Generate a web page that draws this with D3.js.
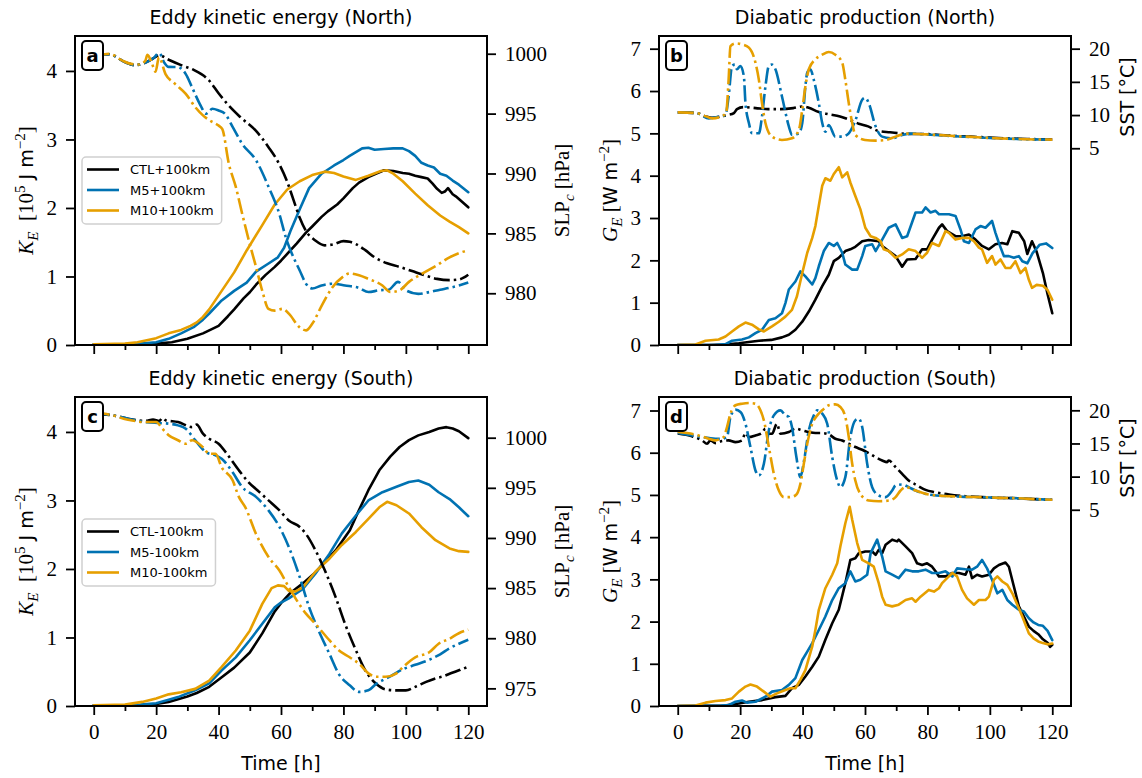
<!DOCTYPE html>
<html><head><meta charset="utf-8">
<script src="https://cdn.jsdelivr.net/npm/d3@7"></script>
<style>body{margin:0;background:#fff} svg{display:block} text{white-space:pre}</style>
</head><body><svg id="chart" width="1142" height="778"></svg>
<script>
// ---------------- DATA ----------------
const timeMajor=[0,20,40,60,80,100,120];
const timeMinor=[10,30,50,70,90,110];
const keTicks=[0,1,2,3,4];
const geTicks=[0,1,2,3,4,5,6,7];
const slpTicksNorth=[980,985,990,995,1000];
const slpTicksSouth=[975,980,985,990,995,1000];
const sstTicks=[5,10,15,20];
const legendNorth=['CTL+100km','M5+100km','M10+100km'];
const legendSouth=['CTL-100km','M5-100km','M10-100km'];
const titles=['Eddy kinetic energy (North)','Diabatic production (North)','Eddy kinetic energy (South)','Diabatic production (South)'];
const letters=['a','b','c','d'];

// Panel a: K_E [1e5 J m-2] (solid) and SLP_c [hPa] (dash-dot)
const a_ke_ctl=[[0,0.01],[10,0.01],[15,0.015],[20,0.02],[25,0.04],[30,0.09],[35,0.17],[40,0.28],[43,0.42],[45,0.52],[48,0.68],[50,0.77],[52,0.88],[55,1.02],[58,1.14],[60,1.23],[63,1.38],[65,1.48],[68,1.64],[70,1.73],[73,1.87],[75,1.95],[78,2.05],[80,2.14],[83,2.29],[85,2.37],[88,2.45],[90,2.49],[93,2.55],[96,2.54],[99,2.51],[101,2.50],[103,2.47],[105,2.45],[107,2.43],[108.5,2.36],[110,2.28],[111.5,2.22],[112.5,2.24],[113.5,2.29],[115,2.2],[116,2.17],[118,2.09],[120,2.01]];
const a_ke_m5=[[0,0.01],[10,0.01],[15,0.02],[20,0.04],[24,0.09],[28,0.17],[32,0.26],[35,0.37],[37,0.46],[41,0.65],[45,0.79],[49,0.91],[52,1.07],[56,1.19],[59,1.28],[61,1.42],[63,1.66],[66,1.98],[69,2.29],[73,2.5],[77,2.62],[80,2.7],[82,2.76],[86,2.87],[88,2.88],[90,2.85],[93,2.86],[96,2.87],[99,2.87],[101,2.83],[103,2.76],[105,2.66],[107,2.62],[109,2.59],[111,2.50],[113,2.47],[115,2.4],[117,2.34],[120,2.23]];
const a_ke_m10=[[0,0.01],[10,0.02],[14,0.04],[17,0.07],[20,0.10],[24,0.17],[28,0.22],[31,0.28],[33,0.33],[35,0.41],[37,0.52],[41,0.79],[45,1.06],[49,1.38],[54,1.75],[58,2.05],[62,2.27],[66,2.39],[70,2.48],[74,2.53],[77,2.51],[80,2.46],[84,2.41],[88,2.47],[92,2.54],[94,2.55],[96,2.5],[99,2.39],[103,2.21],[107,2.04],[111,1.89],[114,1.8],[117,1.72],[120,1.63]];
const a_slp_ctl=[[0,999.86],[5,999.95],[10,999.3],[13,999.05],[16,999.2],[19,999.6],[21,999.86],[24,999.5],[28,999.05],[32,998.65],[37,997.75],[40,996.7],[43,995.75],[47,994.7],[52,993.55],[56,992.2],[59,991.0],[62,989.3],[64,987.8],[66,986.3],[68,985.2],[71,984.4],[74,984.0],[77,984.1],[80,984.35],[82,984.3],[84,984.1],[87,983.6],[90,983.0],[94,982.5],[98,982.2],[102,981.85],[106,981.5],[110,981.2],[114,981.1],[117,981.15],[118.5,981.3],[120,981.55]];
const a_slp_m5=[[0,999.86],[5,999.95],[10,999.3],[13,999.05],[16,999.2],[19,999.6],[21,1000.05],[22.5,999.3],[24,998.9],[27,998.88],[29.5,998.3],[31.5,997.2],[34,995.8],[36,995.0],[38,995.4],[40,995.26],[42,995.0],[44.5,993.9],[47.5,992.5],[52,991.1],[56,988.9],[59.5,986.6],[61.5,984.7],[63.5,983.3],[66,981.9],[68,980.8],[70,980.4],[73,980.65],[76.5,980.8],[80.5,980.65],[85,980.45],[88,980.1],[91.5,980.25],[94.5,980.3],[97.5,980.95],[100,980.25],[104,979.95],[107.5,980.1],[111,980.3],[114,980.45],[117,980.65],[120,980.9]];
const a_slp_m10=[[0,999.76],[5,1000.0],[9,999.45],[12,999.15],[14.5,999.1],[16.5,999.4],[17.2,999.9],[18.7,999.15],[19.8,998.5],[20.9,999.7],[23,998.3],[26,997.5],[29.5,996.65],[32.5,995.55],[35,994.85],[37,994.45],[40,994.0],[41.2,993.7],[43.3,990.8],[45.5,988.9],[47.6,986.6],[49.7,984.4],[52,982.2],[54,980.2],[56,978.7],[58,978.55],[60.5,978.7],[62.5,978.3],[66,977.15],[68,976.9],[70,977.45],[73.3,979.1],[76.5,980.5],[79.7,981.35],[82,981.65],[85,981.5],[88,981.2],[92.5,980.65],[95,980.1],[98,980.25],[101,980.95],[105,981.6],[110,982.35],[114,983.0],[117,983.35],[120,983.6]];

// Panel b: G_E [W m-2] (solid) and SST [degC] (dash-dot)
const b_ge_ctl=[[0,0],[10,0],[15,0.01],[19.6,0.04],[26,0.1],[30,0.12],[33.4,0.18],[35.6,0.24],[37.7,0.36],[39.9,0.55],[42,0.79],[44.1,1.07],[46.3,1.39],[48.4,1.66],[50,1.98],[51.6,2.06],[53.7,2.22],[55.3,2.26],[56.9,2.32],[59.1,2.45],[61.2,2.48],[64.4,2.45],[65.5,2.34],[67.6,2.22],[69.8,2.1],[71.9,1.85],[73.5,2.02],[76.2,2.03],[78.3,2.26],[79.9,2.26],[81.5,2.49],[83.7,2.77],[84.7,2.85],[86.3,2.69],[89,2.57],[91.1,2.57],[93.3,2.61],[95.4,2.49],[97.5,2.34],[99.7,2.26],[101.8,2.38],[103.9,2.41],[105.6,2.38],[107.2,2.69],[109.3,2.65],[111,2.45],[112,2.15],[113.5,2.45],[115,2.2],[117,1.7],[118.5,1.2],[120,0.75]];
const b_ge_m5=[[0,0],[12,0],[15.3,0.02],[17.4,0.1],[20.6,0.13],[22.8,0.18],[24.9,0.28],[27,0.36],[29.2,0.59],[31.3,0.63],[33.4,0.75],[34.5,0.99],[35.6,1.31],[37.7,1.5],[39.3,1.74],[40.9,1.62],[43.1,1.43],[44.1,1.58],[45.2,1.86],[46.8,2.22],[48.4,2.41],[50,2.34],[51.1,2.41],[52.7,2.18],[53.7,1.9],[55.9,1.78],[57.5,1.78],[59.1,2.1],[60.1,2.34],[62.3,2.38],[63.4,2.22],[65.5,2.49],[67.6,2.77],[69.8,2.85],[71.9,2.53],[73.5,2.57],[76.2,3.13],[78.3,3.13],[79.4,3.25],[81,3.13],[82.6,3.17],[83.7,3.09],[86.9,3.09],[89,3.05],[90.6,2.73],[91.7,2.45],[93.3,2.41],[95.4,2.73],[97,2.81],[98.6,2.77],[100.7,2.93],[101.8,2.65],[102.9,2.41],[104.5,2.1],[106.1,2.1],[107.7,2.06],[109.3,2.1],[110.4,1.98],[112,1.93],[113.7,2.17],[116,2.37],[118,2.4],[120,2.29]];
const b_ge_m10=[[0,0],[5.7,0.01],[8.9,0.1],[13.1,0.13],[15.3,0.2],[17.4,0.32],[19.6,0.44],[21.7,0.53],[23.8,0.48],[26,0.37],[27.6,0.32],[30.2,0.44],[32.4,0.55],[34.5,0.67],[36.6,0.83],[38.2,1.15],[39.9,1.7],[41.5,2.18],[43.1,2.53],[44.1,2.81],[45.2,3.29],[46.3,3.76],[47.3,3.94],[48.9,3.88],[50,4.04],[51.6,4.2],[52.7,3.96],[54.3,4.08],[55.3,3.84],[56.9,3.52],[58.5,3.21],[60.1,2.77],[61.8,2.57],[63.4,2.53],[65,2.45],[66,2.26],[67.6,2.22],[69.8,2.06],[71.9,2.14],[74,2.26],[76.2,2.22],[78.3,2.06],[79.9,2.18],[81.5,2.41],[83.7,2.34],[85.8,2.69],[86.9,2.65],[89,2.49],[91.1,2.53],[93.3,2.53],[94.9,2.45],[96.5,2.3],[97.5,2.26],[99.1,1.94],[100.7,2.1],[101.8,1.9],[103.4,2.02],[105,1.82],[106.6,1.82],[108.2,1.98],[109.8,1.7],[111.4,1.82],[112.5,1.54],[113.5,1.35],[115,1.42],[117,1.4],[118.5,1.3],[120,1.07]];
const b_sst_ctl=[[0,10.4],[6,10.3],[9,9.8],[11,9.6],[14,9.8],[16,10.0],[18,10.3],[19,10.9],[21,11.2],[25,11.05],[29,10.9],[33,10.9],[37,11.05],[40,11.3],[42,11.1],[45,10.5],[48,10.15],[52,9.8],[55,9.3],[58,8.7],[61,8.3],[64,7.65],[68,7.4],[71,7.25],[75,7.15],[79,7.15],[84,7.0],[89,6.85],[94,6.75],[100,6.6],[105,6.5],[112,6.4],[120,6.3]];
const b_sst_m5=[[0,10.4],[6,10.3],[10,9.5],[13,9.75],[15.3,10.0],[16.3,12.8],[17.4,17.4],[18.3,17.6],[19,16.9],[20.1,17.4],[21.2,15.8],[21.7,11.8],[22.8,8.8],[23.8,7.25],[26,7.25],[27,9.8],[28.1,14.3],[29.2,17.4],[30.2,17.6],[31.3,16.9],[33.4,12.8],[35.6,8.3],[36.6,7.0],[38.8,7.25],[39.9,8.8],[40.9,14.3],[41.5,16.4],[42.5,16.9],[43.6,15.3],[45.2,11.8],[46.3,8.8],[47.3,7.5],[48.4,8.5],[50.5,6.75],[52.7,6.75],[54.8,7.25],[57,9.3],[59.1,12.3],[60.1,12.6],[61.2,11.8],[63.4,8.3],[65.5,6.75],[68.7,6.5],[71.9,7.0],[75,7.2],[79,7.1],[84,6.95],[89,6.8],[94,6.7],[100,6.55],[105,6.45],[112,6.35],[120,6.3]];
const b_sst_m10=[[0,10.4],[6,10.3],[9,9.8],[11,9.5],[14,9.8],[15.5,10.3],[16.3,15.3],[16.9,20.4],[18.5,20.8],[20.6,20.65],[22.8,20.15],[24.9,17.9],[26,15.3],[27,11.8],[28.1,8.8],[30.2,6.75],[33.4,6.25],[36.6,6.5],[38.8,7.75],[39.9,10.8],[40.9,14.3],[42,16.9],[44.1,18.4],[46.3,19.1],[48.4,19.5],[50.5,19.1],[52.7,17.9],[53.7,15.3],[54.8,11.8],[55.9,8.8],[56.9,7.0],[60,6.25],[63.4,6.15],[66.6,6.25],[69.8,6.75],[73,7.2],[77,7.15],[81,7.05],[85,6.95],[90,6.8],[95,6.7],[100,6.55],[106,6.45],[112,6.35],[120,6.3]];

// Panel c: K_E (solid) and SLP_c (dash-dot), South
const c_ke_ctl=[[0,0.01],[10,0.01],[15,0.015],[20,0.03],[24,0.06],[27,0.1],[30,0.14],[33,0.19],[37,0.28],[41,0.42],[45,0.56],[50,0.78],[54,1.06],[58,1.38],[60,1.5],[63,1.65],[67,1.79],[71,1.95],[74,2.1],[77.5,2.27],[82,2.56],[85,2.86],[88,3.15],[91.5,3.44],[95,3.64],[98,3.78],[101,3.88],[104,3.95],[107.5,4.0],[110.5,4.05],[113,4.07],[115,4.05],[117,4.01],[120,3.91]];
const c_ke_m5=[[0,0.01],[10,0.01],[15,0.02],[20,0.04],[24,0.09],[27,0.13],[32.5,0.23],[37,0.33],[41,0.52],[45.5,0.71],[50,0.96],[54,1.2],[58,1.44],[60,1.51],[62.5,1.57],[67,1.71],[71,1.93],[75.5,2.22],[79.5,2.52],[84,2.78],[88,3.0],[92.5,3.12],[97,3.2],[101,3.27],[104,3.29],[107.5,3.23],[110.5,3.12],[114,3.02],[117,2.9],[120,2.77]];
const c_ke_m10=[[0,0.01],[10,0.02],[15.5,0.06],[20,0.11],[24,0.17],[28,0.2],[32.5,0.25],[37,0.37],[41,0.57],[45.5,0.81],[50,1.1],[54,1.49],[57,1.72],[59,1.76],[61,1.75],[62.5,1.68],[64.5,1.67],[67,1.73],[71,1.96],[75.5,2.15],[79.5,2.35],[84,2.54],[88,2.73],[91.5,2.9],[94,2.98],[97,2.93],[101,2.81],[105,2.61],[109.5,2.42],[114,2.3],[117,2.26],[120,2.25]];
const c_slp_ctl=[[0,1002.4],[6,1002.23],[11,1001.9],[16.5,1001.67],[19,1001.8],[21,1001.67],[22,1001.95],[23,1001.75],[27,1001.56],[31.5,1001.06],[33,1001.3],[35,1000.4],[37,999.9],[40,999.4],[43,998.25],[46.5,996.75],[49.5,995.6],[53,994.6],[56,993.75],[59.5,992.75],[62.5,991.75],[66,991.1],[68,990.4],[71,988.8],[74,986.8],[77.5,984.1],[80.5,981.45],[84,978.8],[87,976.8],[90.5,975.45],[93.5,974.9],[97,974.8],[100,974.8],[103,975.15],[106.5,975.65],[109.5,976.0],[112,976.2],[114,976.45],[117,976.8],[120,977.15]];
const c_slp_m5=[[0,1002.46],[6,1002.23],[11,1001.9],[16.5,1001.56],[21,1001.46],[24,1001.4],[27,1001.23],[29.5,1000.9],[32.5,999.75],[36,998.55],[39,998.25],[41,997.9],[44.5,996.55],[47.5,995.1],[52,994.1],[56,992.75],[59.5,991.1],[62.5,989.1],[66,986.1],[69,983.1],[72,980.8],[75.5,978.45],[78.5,976.45],[82,975.3],[85,974.65],[88,974.8],[90.5,975.45],[92.5,975.8],[95,976.2],[99,976.9],[103,977.35],[107.5,977.85],[111,978.4],[114,979.0],[117,979.45],[120,979.85]];
const c_slp_m10=[[0,1002.56],[6,1002.23],[11,1001.8],[16.5,1001.56],[20,1001.56],[22,1000.9],[24,1000.25],[27,999.75],[29.5,999.4],[31.5,999.75],[35,999.05],[37,998.4],[39,998.4],[41,997.05],[44.5,995.75],[46.5,994.1],[48.5,993.1],[52,990.4],[56,988.1],[59.5,986.75],[62.5,985.1],[65,983.8],[68,982.45],[71,981.45],[75.5,979.8],[78.5,978.8],[82,978.1],[85,977.45],[88,976.5],[90.5,976.15],[93.5,976.15],[97,976.5],[99,977.1],[103,978.1],[107.5,978.6],[110.5,979.45],[114,979.95],[117,980.5],[120,980.85]];

// Panel d: G_E (solid) and SST (dash-dot), South
const d_ge_ctl=[[0,0],[15,0.01],[19.6,0.06],[22.8,0.1],[27,0.14],[31.3,0.21],[34.5,0.24],[36.6,0.42],[38.8,0.5],[40.9,0.7],[43.1,0.93],[45.2,1.17],[47.3,1.57],[49.5,1.96],[51.6,2.28],[53.7,2.91],[55.3,3.46],[56.9,3.5],[58,3.62],[60.1,3.66],[62.3,3.66],[63.4,3.58],[64.4,3.7],[65.5,3.62],[66.6,3.82],[68.7,3.94],[70.3,3.9],[70.8,3.94],[73,3.78],[75.1,3.62],[76.7,3.38],[78.3,3.34],[79.9,3.38],[81.5,3.3],[82.6,3.19],[83.7,3.07],[85.8,3.07],[88,3.15],[90.1,3.15],[92.2,3.11],[93.3,3.3],[94.3,3.03],[95.9,3.11],[97.5,3.07],[99.7,3.11],[101.3,3.26],[102.9,3.34],[105,3.4],[106.1,3.3],[107.7,2.83],[109.3,2.36],[110.9,2.12],[112.5,1.88],[114,1.78],[115.5,1.7],[117,1.58],[118.5,1.5],[119.3,1.4],[120,1.45]];
const d_ge_m5=[[0,0],[14,0.01],[16.3,0.02],[18.5,0.1],[20.6,0.13],[22.2,0.08],[24.9,0.1],[28.1,0.22],[30.2,0.34],[33.4,0.38],[35.6,0.5],[37.7,0.66],[39.9,1.09],[41.5,1.29],[43.1,1.49],[45.2,1.8],[47.3,2.12],[49.5,2.51],[51.6,2.79],[53.7,2.91],[55.3,3.19],[56.9,2.95],[58.5,2.99],[60.7,3.11],[61.8,3.62],[63.9,3.94],[65.5,3.54],[66.6,3.19],[68.7,3.11],[70.8,3.03],[73,3.23],[75.1,3.19],[77.2,3.19],[79.4,3.23],[81.5,3.15],[83.7,3.15],[85.8,3.19],[88,3.07],[89.5,3.26],[92.2,3.24],[94.3,3.23],[95.9,3.3],[97.5,3.46],[99.1,3.26],[100.7,2.99],[102.4,2.67],[104,2.75],[105.6,2.51],[107.2,2.4],[109.3,2.28],[110.9,2.24],[112.5,2.08],[114,1.98],[115.5,1.92],[117,1.9],[118.5,1.78],[120,1.56]];
const d_ge_m10=[[0,0],[5.7,0.01],[8.9,0.08],[12.1,0.12],[15.3,0.14],[17.4,0.18],[19.6,0.34],[21.7,0.46],[23.3,0.51],[25.4,0.46],[27.6,0.34],[29.7,0.22],[31.8,0.3],[34.5,0.38],[36.1,0.42],[37.7,0.42],[39.3,0.62],[40.9,0.85],[43.1,1.41],[44.1,1.8],[45.2,2.28],[47.3,2.79],[49.5,3.11],[51.1,3.38],[52.1,3.78],[53.7,4.33],[55.1,4.72],[55.9,4.41],[57.5,3.86],[59.1,3.46],[61.2,3.38],[62.8,3.3],[64.4,2.91],[65.5,2.59],[66.6,2.4],[68.7,2.36],[70.8,2.4],[73,2.51],[75.1,2.55],[76.2,2.47],[77.8,2.59],[80.4,2.75],[82.1,2.71],[83.7,2.79],[84.7,2.91],[86.3,3.03],[88,3.15],[89.5,3.07],[91.1,2.75],[92.7,2.55],[94.9,2.4],[96.5,2.51],[98.6,2.51],[99.7,2.59],[101.3,2.99],[102.4,3.07],[104,2.95],[105.6,2.87],[107.2,2.67],[108.8,2.4],[110.4,2.12],[112.5,1.72],[114,1.6],[115.5,1.53],[117,1.49],[118.5,1.46],[120,1.48]];
const d_sst_ctl=[[0,16.5],[4.6,16.07],[7.8,15.46],[9.4,14.96],[10.5,15.46],[12.1,15.06],[14.2,15.36],[16.3,15.46],[18.5,15.21],[20.6,15.46],[21.7,16.57],[22.8,15.97],[24.9,16.22],[27,16.57],[28.1,17.23],[29.2,16.47],[30.2,16.47],[31.8,17.98],[32.9,16.47],[35.6,16.72],[37.7,17.23],[39.9,16.98],[42,16.72],[44.1,16.57],[46.3,16.57],[48.4,16.37],[50.5,15.72],[52.7,15.46],[54.8,14.96],[56.9,14.46],[59.1,14.05],[61.2,13.55],[63.4,12.94],[65.5,12.44],[67.1,12.19],[67.6,12.44],[69.8,11.43],[71.9,10.42],[74,9.42],[76.2,8.81],[79.4,8.0],[82.6,7.65],[86.9,7.3],[92.2,7.05],[97.5,6.9],[102.9,6.79],[108.2,6.74],[112.5,6.64],[120,6.5]];
const d_sst_m5=[[0,16.57],[6.7,16.07],[12.1,15.72],[14.2,15.72],[15.8,15.97],[16.9,19.0],[18.5,20.1],[20.1,19.75],[21.7,17.98],[23.3,14.46],[24.9,10.93],[26,10.17],[27.6,11.94],[29.2,16.98],[30.8,19.24],[32.9,20.0],[34.5,19.24],[35.6,18.99],[36.6,17.48],[38,13.0],[39.3,9.92],[40.5,12.5],[42,16.98],[43.6,19.24],[44.7,20.0],[46.3,19.5],[47.9,17.98],[49.5,12.94],[51.1,9.42],[52.1,8.41],[53.7,9.92],[55.3,15.97],[56.9,18.49],[58,18.74],[59.1,17.48],[60.7,11.94],[62.3,8.41],[64.4,7.15],[66.6,6.9],[68.7,7.9],[69.8,8.66],[71.9,8.81],[74,8.41],[76.2,7.9],[80.4,7.3],[86.9,7.05],[92,6.95],[97.5,6.9],[103,6.8],[108,6.75],[112.5,6.65],[120,6.5]];
const d_sst_m10=[[0,16.72],[6.7,16.22],[9.9,15.72],[12.1,15.46],[13.7,15.72],[14.7,15.97],[15.8,17.48],[16.9,19.5],[18.5,20.76],[20.6,21.0],[22.8,21.1],[24.9,21.0],[26.5,20.0],[27.6,18.49],[29.2,14.46],[30.8,10.42],[32.4,7.9],[34,6.9],[35.6,6.9],[37.7,7.15],[39.3,8.91],[40.4,11.94],[41.5,14.96],[43.1,17.98],[44.7,19.24],[46.3,20.0],[48.4,20.76],[50.5,20.9],[52.1,20.5],[53.7,18.99],[54.8,15.97],[55.9,11.94],[56.9,9.42],[58.5,7.4],[61.2,6.39],[64.4,6.29],[67.6,6.39],[69.8,6.9],[71.4,7.9],[73,8.41],[76.2,7.9],[80.4,7.3],[86.9,7.05],[92,6.95],[97.5,6.9],[103,6.8],[108,6.75],[112.5,6.65],[120,6.5]];

// ---------------- DRAWING ----------------
const SERIF="'Liberation Serif','DejaVu Serif',serif";
const SANS="'DejaVu Sans',sans-serif";
const colors=['#000000','#0072B2','#E69F00'];
const svg=d3.select('#chart');
svg.append('rect').attr('width',1142).attr('height',778).attr('fill','#fff');

const keLabel=[{t:'K',f:SERIF,s:21,i:1},{t:'E',f:SERIF,s:15,i:1,sh:-5},{t:'  [10',f:SERIF,s:21},{t:'5',f:SERIF,s:15,sh:8},{t:' J m',f:SANS,s:19},{t:'−2',f:SERIF,s:15,sh:8},{t:']',f:SERIF,s:21}];
const geLabel=[{t:'G',f:SERIF,s:21,i:1},{t:'E',f:SERIF,s:15,i:1,sh:-5},{t:' [',f:SERIF,s:21},{t:'W m',f:SANS,s:19},{t:'−2',f:SERIF,s:15,sh:8},{t:']',f:SERIF,s:21}];
const slpLabel=[{t:'SLP',f:SERIF,s:21},{t:'c',f:SERIF,s:15,i:1,sh:-5},{t:' [hPa]',f:SERIF,s:21}];
const sstLabel=[{t:'SST [°C]',f:SANS,s:19}];

const panels=[
 {id:'a',x0:75,x1:487,y0:36,y1:345,lDom:[0,4.51],rDom:[975.68,1001.48],lTicks:keTicks,rTicks:slpTicksNorth,
  solid:[a_ke_ctl,a_ke_m5,a_ke_m10],dash:[a_slp_ctl,a_slp_m5,a_slp_m10],legend:legendNorth,showX:false,
  lLab:keLabel,lLabX:33,rLab:slpLabel,rLabX:569,rLabY:190.5,title:titles[0],letter:letters[0]},
 {id:'b',x0:659,x1:1071,y0:36,y1:345,lDom:[0,7.30],rDom:[-24.64,21.91],lTicks:geTicks,rTicks:sstTicks,
  solid:[b_ge_ctl,b_ge_m5,b_ge_m10],dash:[b_sst_ctl,b_sst_m5,b_sst_m10],legend:null,showX:false,
  lLab:geLabel,lLabX:617,rLab:sstLabel,rLabX:1134,rLabY:97,title:titles[1],letter:letters[1]},
 {id:'c',x0:75,x1:487,y0:397,y1:706,lDom:[0,4.51],rDom:[973.24,1004.06],lTicks:keTicks,rTicks:slpTicksSouth,
  solid:[c_ke_ctl,c_ke_m5,c_ke_m10],dash:[c_slp_ctl,c_slp_m5,c_slp_m10],legend:legendSouth,showX:true,
  lLab:keLabel,lLabX:33,rLab:slpLabel,rLabX:569,rLabY:551.5,title:titles[2],letter:letters[2]},
 {id:'d',x0:659,x1:1071,y0:397,y1:706,lDom:[0,7.32],rDom:[-24.6,22.01],lTicks:geTicks,rTicks:sstTicks,
  solid:[d_ge_ctl,d_ge_m5,d_ge_m10],dash:[d_sst_ctl,d_sst_m5,d_sst_m10],legend:null,showX:true,
  lLab:geLabel,lLabX:617,rLab:sstLabel,rLabX:1134,rLabY:458,title:titles[3],letter:letters[3]}
];

function rich(parent,x,y,parts){
  const t=parent.append('text').attr('transform',`translate(${x},${y}) rotate(-90)`).attr('text-anchor','middle').attr('fill','#000');
  let prev=0;
  parts.forEach(p=>{
    const sh=p.sh||0;
    t.append('tspan').text(p.t).attr('font-family',p.f).attr('font-size',p.s)
      .attr('font-style',p.i?'italic':'normal').attr('dy',prev-sh);
    prev=sh;
  });
  return t;
}

function styleAxis(ax,size){
  ax.select('.domain').remove();
  ax.attr('font-family',SERIF).attr('font-size',size);
  ax.selectAll('line').attr('stroke','#000').attr('stroke-width',1.8);
  ax.selectAll('text').attr('fill','#000');
}

panels.forEach(p=>{
  const g=svg.append('g');
  const x=d3.scaleLinear().domain([-6,126]).range([p.x0,p.x1]);
  const yL=d3.scaleLinear().domain(p.lDom).range([p.y1,p.y0]);
  const yR=d3.scaleLinear().domain(p.rDom).range([p.y1,p.y0]);
  const cid='clip_'+p.id;
  svg.append('clipPath').attr('id',cid).append('rect').attr('x',p.x0).attr('y',p.y0).attr('width',p.x1-p.x0).attr('height',p.y1-p.y0);

  const lines=g.append('g').attr('clip-path',`url(#${cid})`);
  const lineL=d3.line().x(d=>x(d[0])).y(d=>yL(d[1]));
  const lineR=d3.line().x(d=>x(d[0])).y(d=>yR(d[1])).curve(d3.curveMonotoneX);
  p.solid.forEach((s,i)=>lines.append('path').datum(s).attr('d',lineL).attr('fill','none')
     .attr('stroke',colors[i]).attr('stroke-width',2.6).attr('stroke-linejoin','round').attr('stroke-linecap','round'));

  // legend (on left axes, below twin axes lines)
  if(p.legend){
    const lg=g.append('g');
    const bx=p.x0+7, by=(p.id==='a')?157:519;
    const box=lg.append('rect').attr('x',bx).attr('y',by).attr('height',67).attr('rx',4)
      .attr('fill','rgba(255,255,255,0.85)').attr('stroke','#d0d0d0').attr('stroke-width',1.5);
    let maxW=0;
    p.legend.forEach((lab,i)=>{
      const yy=by+12.5+i*20.5;
      lg.append('line').attr('x1',bx+5).attr('x2',bx+37).attr('y1',yy).attr('y2',yy)
        .attr('stroke',colors[i]).attr('stroke-width',2.6);
      const t=lg.append('text').attr('x',bx+48).attr('y',yy).attr('dy','0.36em')
        .attr('font-family',SANS).attr('font-size',13).attr('fill','#000').text(lab);
      maxW=Math.max(maxW,t.node().getComputedTextLength());
    });
    box.attr('width',48+maxW+8);
  }

  p.dash.forEach((s,i)=>lines.append('path').datum(s).attr('d',lineR).attr('fill','none')
     .attr('stroke',colors[i]).attr('stroke-width',2.6).attr('stroke-dasharray','16,4,2.5,4').attr('stroke-linecap','butt'));

  // axes
  const axB=g.append('g').attr('transform',`translate(0,${p.y1})`)
    .call(d3.axisBottom(x).tickValues(timeMajor).tickSize(9).tickPadding(9).tickFormat(p.showX?d3.format('d'):()=>''));
  styleAxis(axB,21);
  const axBm=g.append('g').attr('transform',`translate(0,${p.y1})`)
    .call(d3.axisBottom(x).tickValues(timeMinor).tickSize(5).tickFormat(()=>''));
  styleAxis(axBm,21);
  const axL=g.append('g').attr('transform',`translate(${p.x0},0)`)
    .call(d3.axisLeft(yL).tickValues(p.lTicks).tickSize(9).tickPadding(9).tickFormat(d3.format('d')));
  styleAxis(axL,21);
  const axR=g.append('g').attr('transform',`translate(${p.x1},0)`)
    .call(d3.axisRight(yR).tickValues(p.rTicks).tickSize(9).tickPadding(9).tickFormat(d3.format('d')));
  styleAxis(axR,21);

  g.append('rect').attr('x',p.x0).attr('y',p.y0).attr('width',p.x1-p.x0).attr('height',p.y1-p.y0)
    .attr('fill','none').attr('stroke','#000').attr('stroke-width',2);

  // title
  g.append('text').attr('x',(p.x0+p.x1)/2).attr('y',p.y0-12).attr('text-anchor','middle')
    .attr('font-family',SANS).attr('font-size',19).attr('fill','#000').text(p.title);

  // panel letter
  g.append('rect').attr('x',p.x0+7).attr('y',p.y0+5).attr('width',21).attr('height',29).attr('rx',4)
    .attr('fill','#fff').attr('stroke','#000').attr('stroke-width',2);
  g.append('text').attr('x',p.x0+17.5).attr('y',p.y0+19.5).attr('dy','0.36em').attr('text-anchor','middle')
    .attr('font-family',SANS).attr('font-weight','bold').attr('font-size',18).attr('fill','#000').text(p.letter);

  // axis labels
  rich(g,p.lLabX,(p.y0+p.y1)/2,p.lLab);
  rich(g,p.rLabX,p.rLabY,p.rLab);
  if(p.showX){
    g.append('text').attr('x',(p.x0+p.x1)/2).attr('y',770).attr('text-anchor','middle')
      .attr('font-family',SANS).attr('font-size',19).attr('fill','#000').text('Time [h]');
  }
});
</script></body></html>
